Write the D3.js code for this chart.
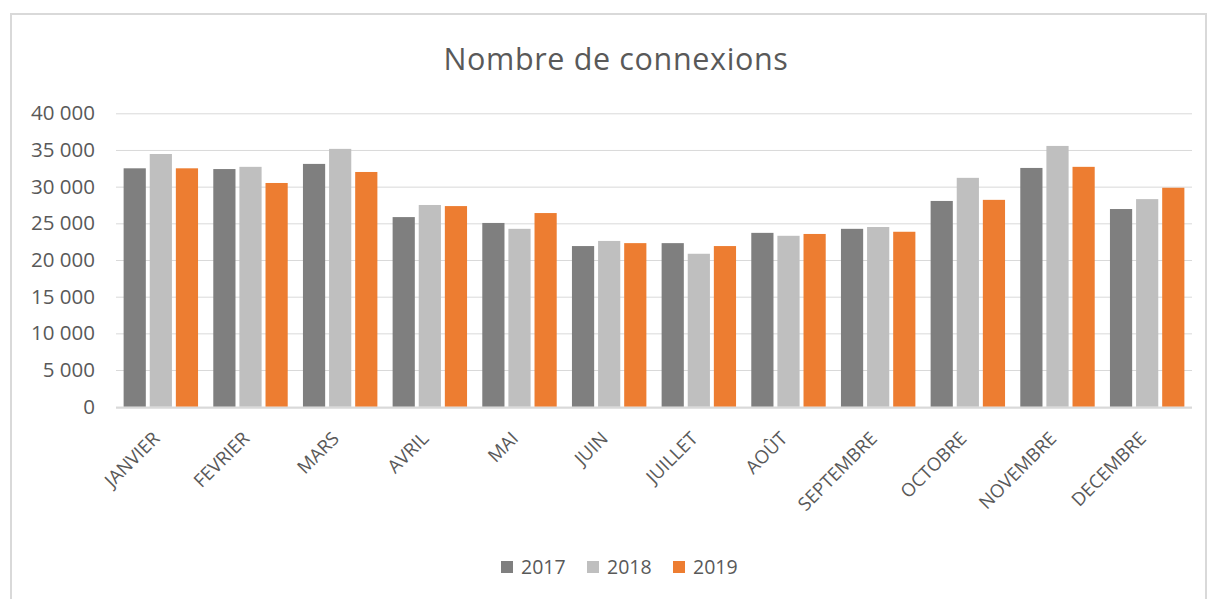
<!DOCTYPE html>
<html><head><meta charset="utf-8">
<script src="https://cdn.jsdelivr.net/npm/d3@7"></script>
<style>body{margin:0;background:#fff}svg{display:block}</style>
</head><body>
<script>
const categories = ["JANVIER","FEVRIER","MARS","AVRIL","MAI","JUIN","JUILLET","AOÛT","SEPTEMBRE","OCTOBRE","NOVEMBRE","DECEMBRE"];
const seriesNames = ["2017","2018","2019"];
const values2017 = [32500,32400,33100,25850,25050,21900,22300,23700,24250,28050,32550,26950];
const values2018 = [34450,32700,35150,27500,24250,22600,20850,23300,24500,31200,35550,28300];
const values2019 = [32500,30500,32000,27350,26400,22300,21900,23550,23850,28200,32700,29850];
const yTicks = [0,5000,10000,15000,20000,25000,30000,35000,40000];
const colors = ["#7f7f7f","#bfbfbf","#ed7d31"];

(function(){
const W = 1208, H = 599;
const svg = d3.select("body").append("svg").attr("width", W).attr("height", H);
const font = "'Open Sans', Lato, sans-serif";

svg.append("rect").attr("x",11).attr("y",14).attr("width",1195).attr("height",600)
  .attr("fill","#fff").attr("stroke","#d9d9d9").attr("stroke-width",2);

const pLeft = 116, pRight = 1192, pTop = 113.3, pBottom = 406.7;
const x = d3.scaleBand().domain(categories).range([pLeft, pRight]).paddingInner(0).paddingOuter(0);
const y = d3.scaleLinear().domain([0,40000]).range([pBottom, pTop]);
const bw = x.bandwidth();
const x1 = d3.scaleBand().domain(seriesNames).range([bw*0.085, bw*0.915]).paddingInner(0.15).paddingOuter(0);

const title = svg.append("text").attr("x", 616).attr("y", 70).attr("text-anchor","middle")
  .attr("font-family", font).attr("font-size", 30.5).attr("fill","#595959").text("Nombre de connexions");
const tw = title.node().getComputedTextLength();
title.attr("letter-spacing", ((345 - tw) / 20).toFixed(2) + "px");

const yAxis = svg.append("g").attr("transform", `translate(${pLeft},0)`)
  .call(d3.axisLeft(y).tickValues(yTicks).tickSize(-(pRight-pLeft)).tickFormat(v => v===0 ? "0" : (v/1000) + " 000"));
yAxis.select(".domain").remove();
yAxis.selectAll(".tick line").attr("stroke","#d9d9d9").attr("stroke-width",1);
yAxis.selectAll(".tick text").attr("x",-21).attr("font-family",font).attr("font-size",20.5).attr("fill","#595959");

const data = categories.map((c,i) => ({cat:c, vals:[values2017[i],values2018[i],values2019[i]]}));
const g = svg.append("g");
const groups = g.selectAll("g").data(data).join("g").attr("transform", d => `translate(${x(d.cat)},0)`);
groups.selectAll("rect").data(d => d.vals.map((v,j)=>({v, s:seriesNames[j], j})))
  .join("rect")
  .attr("x", d => x1(d.s)).attr("width", x1.bandwidth())
  .attr("y", d => y(d.v)).attr("height", d => y(0)-y(d.v))
  .attr("fill", d => colors[d.j]);

svg.append("line").attr("x1",pLeft).attr("x2",pRight).attr("y1",pBottom+1).attr("y2",pBottom+1)
  .attr("stroke","#d9d9d9").attr("stroke-width",2);

const xAxis = svg.append("g").attr("transform", `translate(0,${pBottom})`)
  .call(d3.axisBottom(x).tickSize(0));
xAxis.select(".domain").remove();
xAxis.selectAll(".tick text")
  .attr("font-family",font).attr("font-size",18.5).attr("fill","#595959")
  .attr("text-anchor","end").attr("dy",0).attr("y",0)
  .attr("transform","translate(0,33) rotate(-45)");

const leg = svg.append("g");
const legX = [501, 587, 673];
seriesNames.forEach((s,i) => {
  leg.append("rect").attr("x", legX[i]).attr("y", 561).attr("width",12).attr("height",12).attr("fill", colors[i]);
  leg.append("text").attr("x", legX[i]+20).attr("y", 574).attr("font-family",font).attr("font-size",19.5)
    .attr("fill","#595959").text(s);
});
})();
</script>
</body></html>
